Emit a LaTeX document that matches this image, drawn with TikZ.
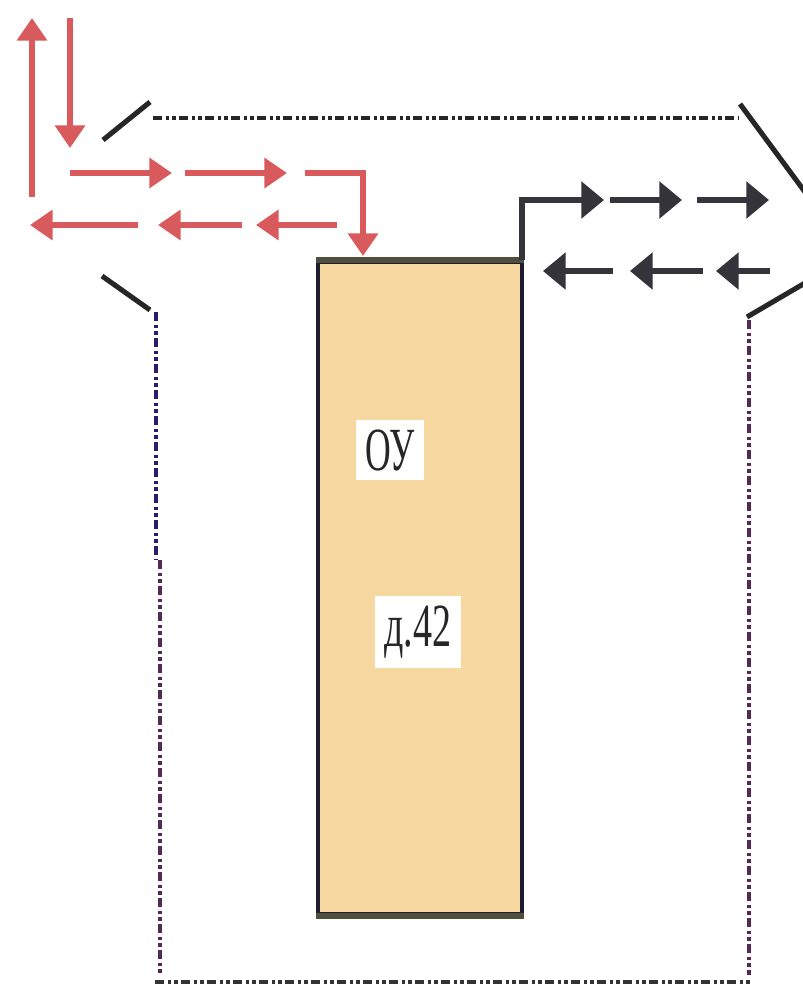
\documentclass[tikz,border=0pt]{standalone}
\usepackage{fontspec}
\setmainfont{Liberation Serif}
\usetikzlibrary{arrows.meta}
\definecolor{redarr}{RGB}{216,90,92}
\definecolor{boxfill}{RGB}{247,216,160}
\definecolor{darkarr}{RGB}{52,52,58}
\definecolor{navyline}{RGB}{40,30,110}
\definecolor{plumline}{RGB}{85,40,85}
\definecolor{boxedge}{RGB}{30,28,50}
\definecolor{boxtop}{RGB}{80,78,60}
\tikzset{
  redarrow/.style={draw=redarr, line width=4.8pt, -{Triangle[length=17pt,width=22pt]}},
  blkarrow/.style={draw=darkarr, line width=4.8pt, -{Triangle[length=17pt,width=27pt]}},
  dashdot/.style={line width=2.8pt, dash pattern=on 7pt off 2.5pt on 2.5pt off 2.5pt on 2.5pt off 2.5pt},
  slant/.style={draw=black!85, line width=3.8pt},
  lbl/.style={fill=white, inner sep=7pt, text=black!85, font=\fontsize{46}{46}\selectfont},
  boxnode/.style={draw=boxedge, fill=boxfill, line width=2.8pt, inner sep=0pt, minimum width=153pt, minimum height=489pt}
}
\begin{document}
\begin{tikzpicture}[x=0.75pt,y=-0.75pt]
\useasboundingbox (0,0) rectangle (803,990);
\fill[white] (0,0) rectangle (803,990);

% outline
\coordinate (tl1) at (103,140); \coordinate (tl2) at (150,102);
\coordinate (t1) at (153,118); \coordinate (t2) at (738,118);
\coordinate (tr1) at (740,104); \coordinate (tr2) at (805,192);
\coordinate (br1) at (805,283); \coordinate (br2) at (747,317);
\coordinate (rv1) at (749,320); \coordinate (rv2) at (749,975);
\coordinate (b1) at (155,982); \coordinate (b2) at (752,982);
\coordinate (bl1) at (102,276); \coordinate (bl2) at (150,310);
\coordinate (lv1) at (156,312); \coordinate (lv2) at (156,560);
\coordinate (lv3) at (160,560); \coordinate (lv4) at (160,975);
\draw[slant] (tl1) -- (tl2);
\draw[dashdot, black!85] (t1) -- (t2);
\draw[slant] (tr1) -- (tr2);
\draw[slant] (br1) -- (br2);
\draw[dashdot, plumline] (rv1) -- (rv2);
\draw[dashdot, black!80] (b1) -- (b2);
\draw[slant] (bl1) -- (bl2);
\draw[dashdot, navyline] (lv1) -- (lv2);
\draw[dashdot, plumline] (lv3) -- (lv4);

% box
\node[boxnode] (box) at (420,588) {};
\draw[boxtop, line width=4pt] (box.north west) -- (box.north east);
\draw[boxtop, line width=4pt] (box.south west) -- (box.south east);
\node[lbl] (ou) at (390,450) {\scalebox{0.58}[1]{ОУ}};
\node[lbl] (d42) at (418,632) {\scalebox{0.62}[1]{д.42}};

% red arrows
\coordinate (ub) at (32,197); \coordinate (ut) at (32,18);
\coordinate (dt) at (70,18); \coordinate (db) at (70,148);
\draw[redarrow] (ub) -- (ut);
\draw[redarrow] (dt) -- (db);
\coordinate (r1a) at (70,173); \coordinate (r1b) at (172,173);
\coordinate (r2a) at (185,173); \coordinate (r2b) at (287,173);
\coordinate (r3a) at (305,173); \coordinate (r3b) at (363,173); \coordinate (r3c) at (363,256);
\draw[redarrow] (r1a) -- (r1b);
\draw[redarrow] (r2a) -- (r2b);
\draw[redarrow] (r3a) -- (r3b) -- (r3c);
\coordinate (l1a) at (138,225); \coordinate (l1b) at (30,225);
\coordinate (l2a) at (242,225); \coordinate (l2b) at (158,225);
\coordinate (l3a) at (337,225); \coordinate (l3b) at (256,225);
\draw[redarrow] (l1a) -- (l1b);
\draw[redarrow] (l2a) -- (l2b);
\draw[redarrow] (l3a) -- (l3b);

% black arrows
\coordinate (k0) at (box.north east -| 522,0);
\coordinate (k1) at (522,200); \coordinate (k2) at (604,200);
\coordinate (k3) at (610,200); \coordinate (k4) at (682,200);
\coordinate (k5) at (697,200); \coordinate (k6) at (769,200);
\draw[blkarrow] (k0) -- (k1) -- (k2);
\draw[blkarrow] (k3) -- (k4);
\draw[blkarrow] (k5) -- (k6);
\coordinate (m1a) at (613,271); \coordinate (m1b) at (543,271);
\coordinate (m2a) at (703,271); \coordinate (m2b) at (630,271);
\coordinate (m3a) at (770,271); \coordinate (m3b) at (716,271);
\draw[blkarrow] (m1a) -- (m1b);
\draw[blkarrow] (m2a) -- (m2b);
\draw[blkarrow] (m3a) -- (m3b);
\end{tikzpicture}
\end{document}
